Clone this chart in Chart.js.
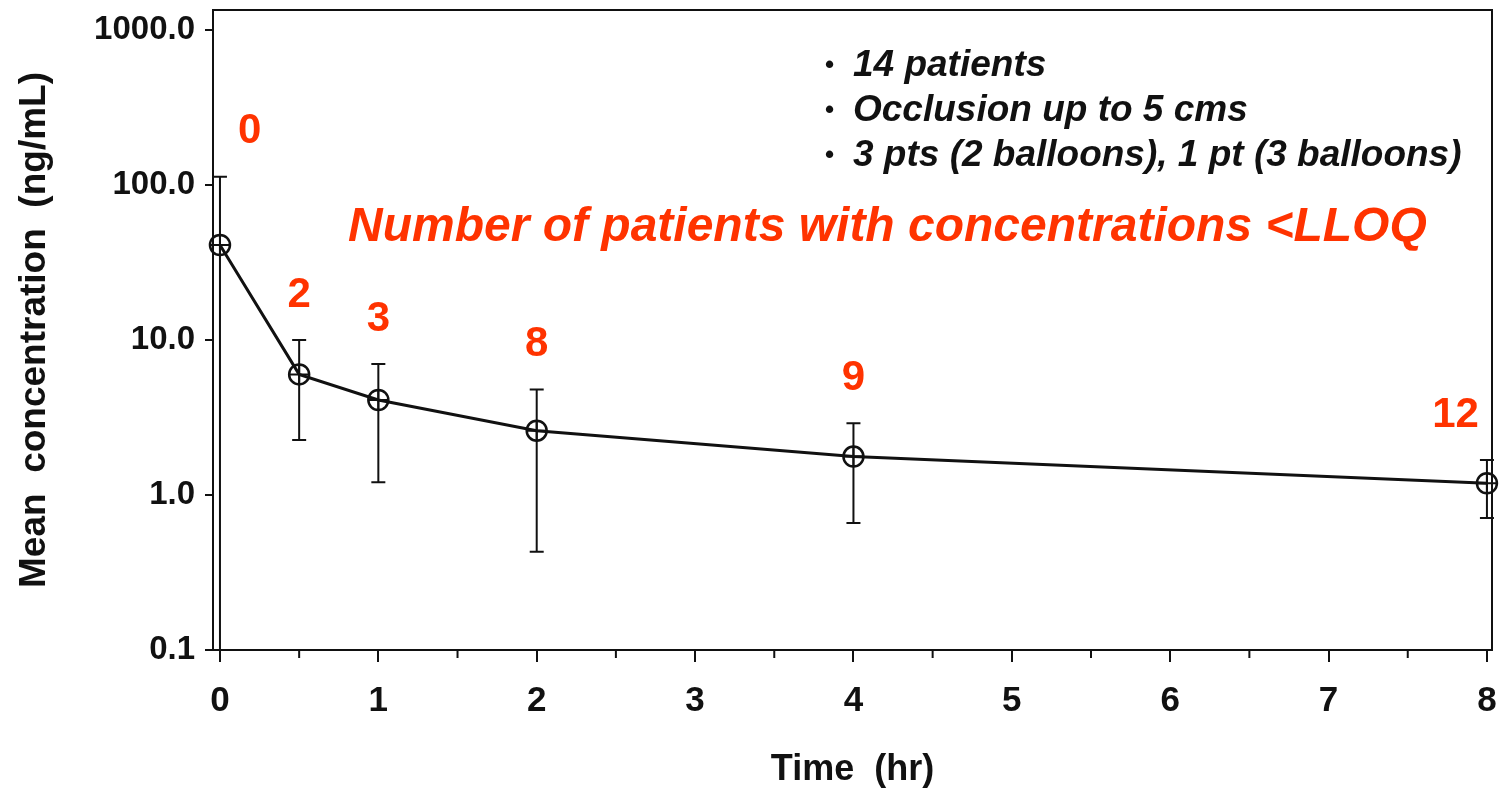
<!DOCTYPE html>
<html>
<head>
<meta charset="utf-8">
<script src="https://cdn.jsdelivr.net/npm/chart.js@4.4.1/dist/chart.umd.min.js"></script>
<style>
  html, body { margin: 0; padding: 0; background: #fff; }
</style>
</head>
<body>
<canvas id="chart" width="1501" height="789"></canvas>
<script>
// sampling times (hr) and mean concentration with error bar ends (ng/mL)
const times = [0, 0.5, 1, 2, 4, 8]
const meanConc = [41, 6.0, 4.1, 2.6, 1.77, 1.19]
const upperConc = [113, 10.0, 7.0, 4.8, 2.9, 1.68]
const lowerConc = [0.05, 2.26, 1.21, 0.43, 0.66, 0.71]
// patients below LLOQ at each time
const belowLloq = [0, 2, 3, 8, 9, 12]
const yTicks = [0.1, 1, 10, 100, 1000]
const xTicks = [0, 0.5, 1, 1.5, 2, 2.5, 3, 3.5, 4, 4.5, 5, 5.5, 6, 6.5, 7, 7.5, 8]
const notes = ['14 patients', 'Occlusion up to 5 cms', '3 pts (2 balloons), 1 pt (3 balloons)']
const lloqTitle = 'Number of patients with concentrations <LLOQ'

const FONT = "'Liberation Sans', Arial, sans-serif"
const RED = '#ff3300'
const INK = '#111'

const points = times.map((t, i) => ({ x: t, y: meanConc[i] }))

const extras = {
  id: 'extras',
  beforeDatasetsDraw(chart) {
    const { ctx, chartArea, scales: { x, y } } = chart
    ctx.save()
    ctx.strokeStyle = INK
    ctx.lineWidth = 2
    times.forEach((t, i) => {
      const px = x.getPixelForValue(t)
      const top = Math.max(chartArea.top, y.getPixelForValue(upperConc[i]))
      const bot = Math.min(chartArea.bottom, y.getPixelForValue(lowerConc[i]))
      ctx.beginPath()
      ctx.moveTo(px, top)
      ctx.lineTo(px, bot)
      ctx.moveTo(px - 7, top)
      ctx.lineTo(px + 7, top)
      if (bot < chartArea.bottom) {
        ctx.moveTo(px - 7, bot)
        ctx.lineTo(px + 7, bot)
      }
      ctx.stroke()
    })
    ctx.restore()
  },
  afterDraw(chart) {
    const { ctx, chartArea, scales: { x, y } } = chart
    ctx.save()
    // frame around the plot
    ctx.strokeStyle = INK
    ctx.lineWidth = 2
    ctx.strokeRect(chartArea.left, chartArea.top, chartArea.right - chartArea.left, chartArea.bottom - chartArea.top)
    // minor ticks on the time axis
    xTicks.forEach(v => {
      if (Number.isInteger(v)) return
      const px = x.getPixelForValue(v)
      ctx.beginPath()
      ctx.moveTo(px, chartArea.bottom)
      ctx.lineTo(px, chartArea.bottom + 8)
      ctx.stroke()
    })

    // counts below LLOQ above each error bar
    ctx.fillStyle = RED
    ctx.font = `bold 42px ${FONT}`
    ctx.textBaseline = 'middle'
    belowLloq.forEach((n, i) => {
      let px = x.getPixelForValue(times[i])
      const py = y.getPixelForValue(upperConc[i]) - 45
      ctx.textAlign = 'center'
      if (i === 0) { ctx.textAlign = 'left'; px += 18 }
      if (i === belowLloq.length - 1) { ctx.textAlign = 'right'; px -= 8 }
      ctx.fillText(String(n), px, py)
    })

    ctx.font = `italic bold 48px ${FONT}`
    ctx.textAlign = 'left'
    ctx.fillText(lloqTitle, 348, 228)

    // bullet notes
    ctx.fillStyle = INK
    notes.forEach((s, i) => {
      const ly = 66 + i * 45
      ctx.font = `bold 26px ${FONT}`
      ctx.fillText('\u2022', 825, ly)
      ctx.font = `italic bold 37px ${FONT}`
      ctx.fillText(s, 853, ly)
    })
    ctx.restore()
  }
}

new Chart(document.getElementById('chart'), {
  type: 'line',
  data: {
    datasets: [
      {
        label: 'Mean',
        data: points,
        clip: false,
        borderColor: INK,
        borderWidth: 3,
        tension: 0,
        pointStyle: 'circle',
        pointRadius: 10,
        pointBorderWidth: 2.5,
        pointBorderColor: INK,
        pointBackgroundColor: 'rgba(0,0,0,0)'
      },
      {
        label: 'cross',
        data: points,
        clip: false,
        showLine: false,
        pointStyle: 'cross',
        pointRadius: 10,
        pointBorderWidth: 2,
        pointBorderColor: INK
      }
    ]
  },
  plugins: [extras],
  options: {
    responsive: false,
    animation: false,
    layout: { autoPadding: false, padding: { top: 10, right: 9, left: 0, bottom: 0 } },
    plugins: { legend: { display: false }, tooltip: { enabled: false } },
    scales: {
      x: {
        type: 'linear',
        min: -0.044,
        max: 8.032,
        afterBuildTicks: scale => { scale.ticks = xTicks.map(v => ({ value: v })) },
        afterFit: scale => {
          scale.height = 139
          scale.paddingLeft = 0
          scale.paddingRight = 0
        },
        ticks: {
          autoSkip: false,
          maxRotation: 0,
          padding: 18,
          color: INK,
          font: { family: FONT, size: 35, weight: 'bold' },
          callback: v => Number.isInteger(v) ? String(v) : ''
        },
        grid: {
          drawOnChartArea: false,
          tickLength: 12,
          lineWidth: 2,
          color: ctx => Number.isInteger(ctx.tick && ctx.tick.value) ? INK : 'rgba(0,0,0,0)'
        },
        border: { display: true, color: INK, width: 2 },
        title: {
          display: true,
          text: 'Time  (hr)',
          color: INK,
          font: { family: FONT, size: 36, weight: 'bold', lineHeight: 1 },
          padding: { top: 0, bottom: 1 }
        }
      },
      y: {
        type: 'logarithmic',
        min: 0.1,
        max: 1346,
        afterBuildTicks: scale => { scale.ticks = yTicks.map(v => ({ value: v, major: true })) },
        afterFit: scale => {
          scale.width = 213
          scale.paddingTop = 0
          scale.paddingBottom = 0
        },
        ticks: {
          autoSkip: false,
          padding: 10,
          color: INK,
          font: { family: FONT, size: 33, weight: 'bold' },
          callback: v => Number(v).toFixed(1)
        },
        grid: { drawOnChartArea: false, tickLength: 8, lineWidth: 2, color: INK },
        border: { display: true, color: INK, width: 2 },
        title: {
          display: true,
          text: 'Mean  concentration  (ng/mL)',
          color: INK,
          font: { family: FONT, size: 37, weight: 'bold', lineHeight: 1.2 },
          padding: { top: 13, bottom: 0 }
        }
      }
    }
  }
})
</script>
</body>
</html>
